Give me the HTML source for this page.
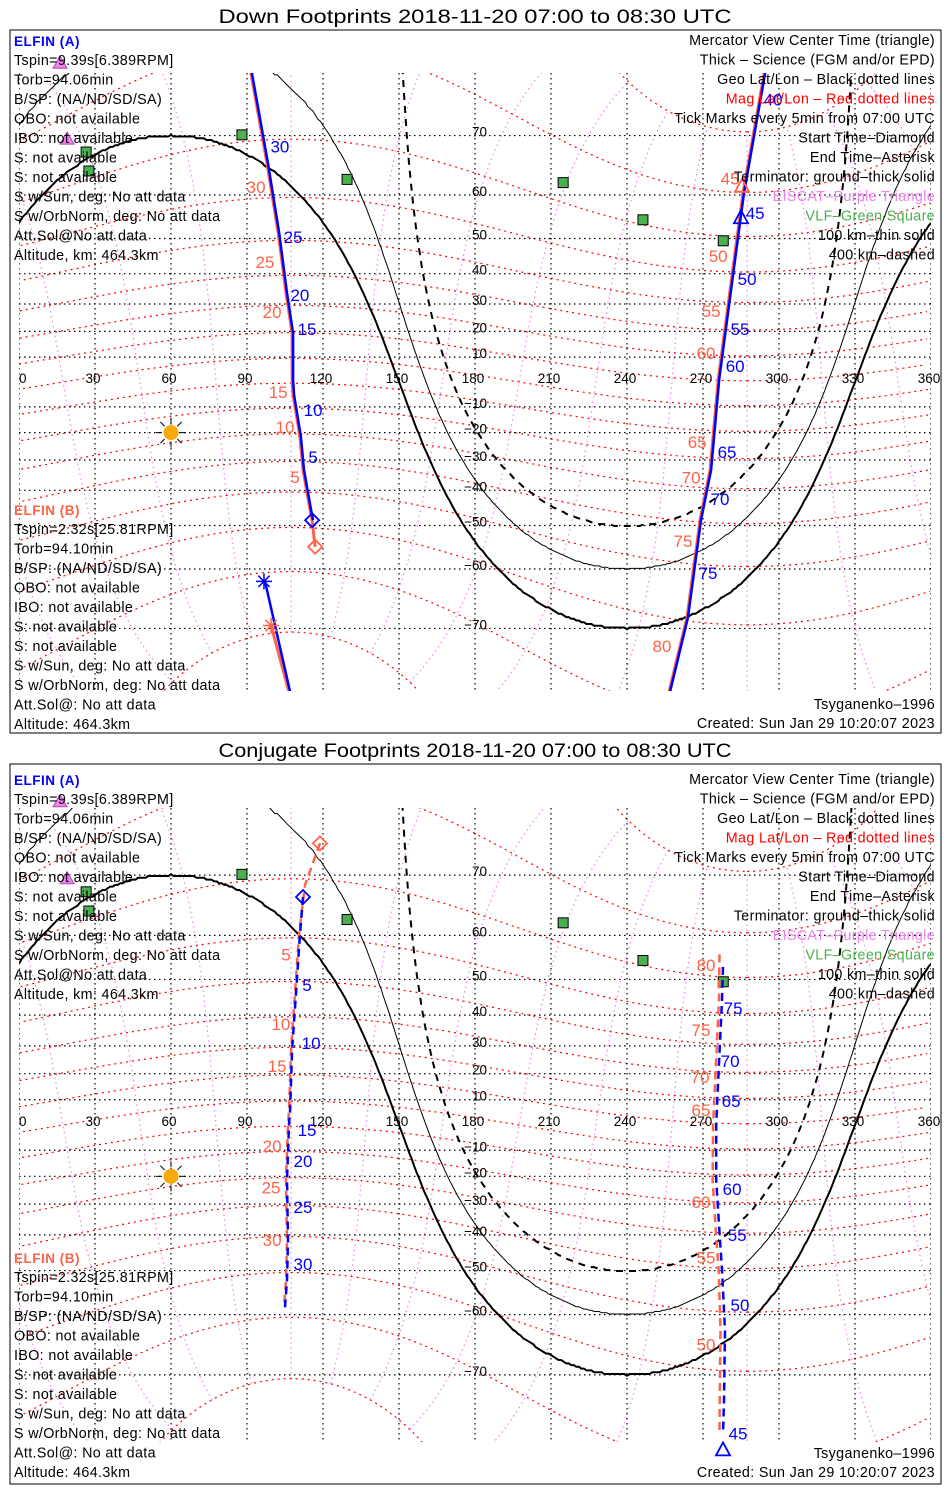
<!DOCTYPE html>
<html><head><meta charset="utf-8">
<style>
html,body{margin:0;padding:0;background:#fff;width:950px;height:1500px;overflow:hidden}
svg{display:block}
text{font-family:"Liberation Sans","DejaVu Sans",sans-serif}
</style></head>
<body>
<svg id="chart" width="950" height="1500" viewBox="0 0 950 1500" xmlns="http://www.w3.org/2000/svg"></svg>
<script>
// ---------------- data ----------------
const lonTicks = [0,30,60,90,120,150,180,210,240,270,300,330,360];
const latTicks = [70,60,50,40,30,20,10,-10,-20,-30,-40,-50,-60,-70];
const magLats = [-80,-70,-60,-50,-40,-30,-20,-10,0,10,20,30,40,50,60,70,80];
const magLons = [0,30,60,90,120,150,180,210,240,270,300,330];
const sunLon = 60, sunDec = -20;
const dipAngles = [0, 10, 19.8]; // ground, 100 km, 400 km
const vlfLon = [88,26.5,27.6,129.5,214.8,246.3,278];
const vlfLat = [70.1,67.6,64.5,63.0,62.4,54.6,49.4];
const eiscatLon = [16.2,19];
const eiscatLat = [77.9,69.5];

// Down footprints
const downATrack = [
  [[115.7,-48.6],[114.9,-45.8],[112.1,-33.4],[110.9,-21.6],[108.2,-5.2],[107.8,0.8],[107.8,19.4],[105.4,33.8],[102.3,51.4],[97.9,65.8],[91.2,77.5]],
  [[294.5,77.5],[285.8,60.4],[281.9,42.0],[276,1],[272.8,-33.4],[268.8,-48.6],[263.7,-68.4],[256.2,-77.5]],
  [[107,-77.5],[96.7,-62.4]]
];
const downBTrack = [
  [[116.9,-55.2],[115.7,-48.6],[114.9,-45.8],[112.1,-33.4],[110.9,-21.6],[108.2,-5.2],[107.8,0.8],[107.8,19.4],[105.4,33.8],[102.3,51.4],[97.9,65.8],[91.2,77.5]],
  [[294.5,77.5],[285.8,60.4],[281.9,42.0],[276,1],[272.8,-33.4],[268.8,-48.6],[263.7,-68.4],[256.2,-77.5]],
  [[107,-77.5],[99.5,-69.6]]
];
const downALabels = ['5','10','15','20','25','30','40','45','50','55','60','65','70','75'];
const downALabelLon = [116.1,116.1,113.7,110.9,108.2,103,297.7,290.6,287.4,284.6,282.7,279.5,276.7,272];
const downALabelLat = [-29.0,-11.2,20.9,33.1,50.4,68.4,74.4,56.2,38.4,20.9,6.5,-27.2,-42.6,-60.8];
const downBLabels = ['5','10','15','20','25','30','45','50','55','60','65','70','75','80'];
const downBLabelLon = [109,105,102.3,99.9,97.1,93.6,280.7,276,273.2,271.2,267.7,265.3,262.1,253.8];
const downBLabelLat = [-35.8,-17.8,-4.0,27.2,43.5,61.6,63.2,45.2,27.6,11.6,-23.6,-36,-53.8,-72.3];

// Conjugate footprints
const conjATrack = [
  [[112.1,66.8],[110.9,60],[109.7,49.8],[107.8,28.6],[107,6],[106.6,0],[105.8,-21.4],[106.2,-41.6],[105.8,-52.4],[105,-58.5]],
  [[277.9,53.1],[277.5,44.4],[276,17.6],[275.2,0],[275.2,-21.4],[276.7,-41.6],[277.5,-49.8],[278.7,-63],[278.3,-73.2],[277.9,-76.7]]
];
const conjBTrack = [
  [[118.8,73.9],[112.9,68.6],[110.5,60],[109.3,49.8],[107.4,28.6],[106.6,6],[106.2,0],[105.4,-21.4],[105.8,-41.6],[105.4,-52.4],[104.6,-58.5]],
  [[276.5,56],[276.3,44.4],[274.8,17.6],[274,0],[273.8,-21.4],[275.3,-41.6],[276.2,-49.8],[276.9,-63],[276.6,-73.2],[276.5,-76.7]]
];
const conjALabels = ['5','10','15','20','25','30','75','70','65','60','55','50','45'];
const conjALabelLon = [113.7,115.3,113.7,112.1,112.1,112.1,281.9,280.7,281.1,281.5,283.5,284.6,283.8];
const conjALabelLat = [48.6,31,-2,-14.2,-31,-48.3,42.2,24.6,9.5,-24.6,-40,-58,-76.6];
const conjBLabels = ['5','10','15','20','25','30','80','75','70','65','60','55','50'];
const conjBLabelLon = [105.4,103.4,101.9,99.9,99.5,99.9,271.2,269.2,268.8,269.2,269.2,271.2,271.2];
const conjBLabelLat = [56.0,37.2,22.8,-8.3,-24.2,-41.6,53.6,35.4,18.8,6,-29.2,-46.6,-65.4];

// ---------------- drawing ----------------
const NS = 'http://www.w3.org/2000/svg';
const svg = document.getElementById('chart');
const BLUE = '#0000ff', ORANGE = '#ff6347';
function el(tag, attrs, parent){
  const e = document.createElementNS(NS, tag);
  for (const k in attrs) e.setAttribute(k, attrs[k]);
  (parent||svg).appendChild(e);
  return e;
}
function txt(s, x, y, attrs, parent){
  const t = el('text', Object.assign({x:x, y:y, 'font-size':13}, attrs||{}), parent);
  t.textContent = s;
  return t;
}
const rad = Math.PI/180;

const panels = [
  {title:'Down Footprints 2018-11-20 07:00 to 08:30 UTC', titleY:23, boxY:30, boxH:703, eq:382, k:142, top:73, bot:691,
   textTop:0, textB:0, textBot:0, aTrack:downATrack, bTrack:downBTrack, dashed:false,
   aL:downALabels, aLon:downALabelLon, aLat:downALabelLat, bL:downBLabels, bLon:downBLabelLon, bLat:downBLabelLat, name:'down'},
  {title:'Conjugate Footprints 2018-11-20 07:00 to 08:30 UTC', titleY:757, boxY:764, boxH:720, eq:1125, k:144, top:808, bot:1442,
   textTop:739, textB:748, textBot:749, aTrack:conjATrack, bTrack:conjBTrack, dashed:true,
   aL:conjALabels, aLon:conjALabelLon, aLat:conjALabelLat, bL:conjBLabels, bLon:conjBLabelLon, bLat:conjBLabelLat, name:'conjugate'}
];

function xOf(lon){ return 19 + lon*2.5333; }
function yOf(P, lat){ const l = Math.max(-85, Math.min(85, lat)); return P.eq - P.k*Math.log(Math.tan((45 + l/2)*rad)); }

const poleLat = 80.5*rad, poleLon = -72.6*rad;
const zp = [Math.cos(poleLat)*Math.cos(poleLon), Math.cos(poleLat)*Math.sin(poleLon), Math.sin(poleLat)];
function cross(a,b){ return [a[1]*b[2]-a[2]*b[1], a[2]*b[0]-a[0]*b[2], a[0]*b[1]-a[1]*b[0]]; }
function norm(a){ const n=Math.hypot(a[0],a[1],a[2]); return [a[0]/n,a[1]/n,a[2]/n]; }
const yp = norm(cross([0,0,1], zp));
const xp = cross(yp, zp);
function magToGeo(mlat, mlon){
  const c = Math.cos(mlat*rad), a = c*Math.cos(mlon*rad), b = c*Math.sin(mlon*rad), s = Math.sin(mlat*rad);
  const v = [xp[0]*a+yp[0]*b+zp[0]*s, xp[1]*a+yp[1]*b+zp[1]*s, xp[2]*a+yp[2]*b+zp[2]*s];
  let lon = Math.atan2(v[1], v[0])/rad; if (lon < 0) lon += 360;
  return [lon, Math.asin(Math.max(-1,Math.min(1,v[2])))/rad];
}
function pathFromGeo(P, pts){
  let d = '', prev = null;
  for (const p of pts){
    if (p === null){ prev = null; continue; }
    const jump = prev && Math.abs(p[0]-prev[0]) > 180;
    d += (prev && !jump ? 'L' : 'M') + xOf(p[0]).toFixed(1) + ' ' + yOf(P, p[1]).toFixed(1);
    prev = p;
  }
  return d;
}
function termLat(lon, alpha){
  const H = (lon - sunLon)*rad, sd = Math.sin(sunDec*rad), cd = Math.cos(sunDec*rad), sa = Math.sin(alpha*rad);
  const f = la => Math.sin(la*rad)*sd + Math.cos(la*rad)*cd*Math.cos(H) + sa;
  let prev = f(-86);
  for (let la = -85.75; la <= 86; la += 0.25){
    const v = f(la);
    if ((v > 0) !== (prev > 0)) return la - 0.125;
    prev = v;
  }
  return null;
}

const INFO = {'font-size':14.3, 'letter-spacing':0.35};

panels.forEach((P, pi) => {
  const g = el('g', {});
  
  
  const clipId = 'clip' + pi;
  const cp = el('clipPath', {id: clipId}, g);
  el('rect', {x:19, y:P.top, width:912, height:P.bot-P.top}, cp);

  const title = txt(P.title, 475, P.titleY, {'font-size':19, 'text-anchor':'middle', textLength:513, lengthAdjust:'spacingAndGlyphs'}, g);
  
  

  const box = el('rect', {x:10, y:P.boxY, width:931, height:P.boxH, fill:'#fff', stroke:'#000', 'stroke-width':1}, g);
  
  

  const map = el('g', {'clip-path':'url(#'+clipId+')'}, g);
  
  

  magLons.forEach(ml => {
    const pts = [];
    for (let m = -80; m <= 80; m += 2) pts.push(magToGeo(m, ml));
    const p = el('path', {d:pathFromGeo(P, pts), fill:'none', stroke:'#ee82ee', 'stroke-width':1.2, 'stroke-dasharray':'1.5 3.5'}, map);
    
    
  });
  magLats.forEach(m => {
    const pts = [];
    for (let ml = 0; ml <= 360; ml += 2) pts.push(magToGeo(m, ml));
    const p = el('path', {d:pathFromGeo(P, pts), fill:'none', stroke:'#ff0000', 'stroke-width':1.2, 'stroke-dasharray':'2 4'}, map);
    
    
  });
  lonTicks.forEach(lon => {
    const l = el('line', {x1:xOf(lon), x2:xOf(lon), y1:P.top, y2:P.bot, stroke:'#000', 'stroke-width':1.2, 'stroke-dasharray':'1.5 3.5'}, map);
    
    
  });
  latTicks.forEach(lat => {
    const y = yOf(P, lat);
    const l = el('line', {x1:19, x2:931, y1:y, y2:y, stroke:'#000', 'stroke-width':1.2, 'stroke-dasharray':'1.5 3.5'}, map);
    
    
  });
  dipAngles.forEach((a, ai) => {
    const pts = [];
    for (let lon = 0; lon <= 360; lon += 1){
      const la = termLat(lon, a);
      pts.push(la === null ? null : [lon, la]);
    }
    const attrs = {d:pathFromGeo(P, pts), fill:'none', stroke:'#000', 'stroke-width': ai===0 ? 2 : (ai===1 ? 1 : 2)};
    if (ai === 2) attrs['stroke-dasharray'] = '7 6';
    const p = el('path', attrs, map);
    
    
  });
  lonTicks.forEach(lon => {
    const t = txt(String(lon), xOf(lon) + (lon===0?0:-2), P.eq + 1, {'font-size':13.5, 'text-anchor': lon===0?'start':'middle'}, g);
    
    
  });
  latTicks.forEach(lat => {
    const t = txt(String(lat).replace('-', '\u2212'), 487, yOf(P, lat) + 1, {'font-size':13.5, 'text-anchor':'end'}, g);
    
    
  });
  vlfLon.forEach((lon, i) => {
    const x = xOf(lon), y = yOf(P, vlfLat[i]);
    const r = el('rect', {x:x-5, y:y-5, width:10, height:10, fill:'#4caf50', stroke:'#000', 'stroke-width':1}, g);
    
    
  });
  eiscatLon.forEach((lon, i) => {
    const x = xOf(lon), y = yOf(P, eiscatLat[i]);
    const t = el('polygon', {points:`${x-7},${y+5} ${x+7},${y+5} ${x},${y-7}`, fill:'#ee82ee', stroke:'#b04ab0', 'stroke-width':1}, g);
    
    
  });
  const sx = xOf(sunLon), sy = yOf(P, sunDec);
  const sun = el('g', {}, g);
  
  
  for (let a = 0; a < 360; a += 45){
    el('line', {x1:sx+9*Math.cos(a*rad), y1:sy+9*Math.sin(a*rad), x2:sx+15*Math.cos(a*rad), y2:sy+15*Math.sin(a*rad), stroke:'#000', 'stroke-width':1}, sun);
  }
  el('circle', {cx:sx, cy:sy, r:7.5, fill:'#f7aa0c'}, sun);

  const trk = el('g', {'clip-path':'url(#'+clipId+')'}, g);
  P.bTrack.forEach(seg => {
    const attrs = {d:pathFromGeo(P, seg), fill:'none', stroke:ORANGE, 'stroke-width':P.dashed?2.5:3};
    if (P.dashed) attrs['stroke-dasharray'] = '8 5';
    const p = el('path', attrs, trk);
    
    
  });
  P.aTrack.forEach(seg => {
    const attrs = {d:pathFromGeo(P, seg), fill:'none', stroke:BLUE, 'stroke-width':2.5};
    if (P.dashed) attrs['stroke-dasharray'] = '8 5';
    const p = el('path', attrs, trk);
    if (!P.dashed) p.setAttribute('transform', 'translate(1,0)');
    
    
  });
  function diamond(lon, lat, c, nm){
    const x = xOf(lon), y = yOf(P, lat);
    const d = el('polygon', {points:`${x},${y-7} ${x+7},${y} ${x},${y+7} ${x-7},${y}`, fill:'none', stroke:c, 'stroke-width':1.8}, g);
    
    
  }
  function triangle(lon, lat, c, nm){
    const x = xOf(lon), y = yOf(P, lat);
    const d = el('polygon', {points:`${x-7},${y+6} ${x+7},${y+6} ${x},${y-7}`, fill:'none', stroke:c, 'stroke-width':1.8}, g);
    
    
  }
  function asterisk(lon, lat, c, nm){
    const x = xOf(lon), y = yOf(P, lat);
    const a = el('g', {stroke:c, 'stroke-width':1.5}, g);
    
    
    for (let k = 0; k < 4; k++){
      const an = k*45*rad;
      el('line', {x1:x-8*Math.cos(an), y1:y-8*Math.sin(an), x2:x+8*Math.cos(an), y2:y+8*Math.sin(an)}, a);
    }
  }
  const a0 = P.aTrack[0][0], b0 = P.bTrack[0][0];
  diamond(a0[0], a0[1], BLUE, 'elfin-a-start');
  diamond(b0[0], b0[1], ORANGE, 'elfin-b-start');
  if (!P.dashed){
    triangle(285, 55.2, BLUE, 'elfin-a-center-time');
    triangle(285.4, 61.8, ORANGE, 'elfin-b-center-time');
    const aEnd = P.aTrack[2][1], bEnd = P.bTrack[2][1];
    asterisk(aEnd[0], aEnd[1], BLUE, 'elfin-a-end');
    asterisk(bEnd[0], bEnd[1], ORANGE, 'elfin-b-end');
  } else {
    triangle(277.9, -78, BLUE, 'elfin-a-center-time');
  }
  P.bL.forEach((s, i) => {
    const t = txt(s, xOf(P.bLon[i]), yOf(P, P.bLat[i]) + 6, {'font-size':17, 'text-anchor':'middle', fill:ORANGE}, g);
    
    
  });
  P.aL.forEach((s, i) => {
    const t = txt(s, xOf(P.aLon[i]), yOf(P, P.aLat[i]) + 6, {'font-size':17, 'text-anchor':'middle', fill:BLUE}, g);
    
    
  });

  const aLines = ['Tspin=9.39s[6.389RPM]','Torb=94.06min','B/SP: (NA/ND/SD/SA)','OBO: not available','IBO: not available','S: not available','S: not available','S w/Sun, deg: No att data','S w/OrbNorm, deg: No att data','Att.Sol@No att data','Altitude, km: 464.3km'];
  const bLines = ['Tspin=2.32s[25.81RPM]','Torb=94.10min','B/SP: (NA/ND/SD/SA)','OBO: not available','IBO: not available','S: not available','S: not available','S w/Sun, deg: No att data','S w/OrbNorm, deg: No att data','Att.Sol@: No att data','Altitude: 464.3km'];
  const ta = txt('ELFIN (A)', 14, 46 + P.textTop, {'font-size':13.5, fill:BLUE, 'font-weight':'bold', 'letter-spacing':0.5}, g);
  
  
  aLines.forEach((s, i) => {
    const t = txt(s, 14, 65 + i*19.5 + P.textTop, INFO, g);
    
    
  });
  const tb = txt('ELFIN (B)', 14, 515 + P.textB, {'font-size':13.5, fill:ORANGE, 'font-weight':'bold', 'letter-spacing':0.5}, g);
  
  
  bLines.forEach((s, i) => {
    const t = txt(s, 14, 534 + i*19.5 + P.textB, INFO, g);
    
    
  });
  const leg = [['Mercator View Center Time (triangle)','#000'],['Thick - Science (FGM and/or EPD)','#000'],['Geo Lat/Lon - Black dotted lines','#000'],['Mag Lat/Lon - Red dotted lines','#ff0000'],['Tick Marks every 5min from 07:00 UTC','#000'],['Start Time-Diamond','#000'],['End Time-Asterisk','#000'],['Terminator: ground-thick solid','#000'],['EISCAT-Purple Triangle','#ee82ee'],['VLF-Green Square','#4caf50'],['100 km-thin solid','#000'],['400 km-dashed','#000']];
  leg.forEach((l, i) => {
    const t = txt(l[0].replace(/ - /g,' \u2013 ').replace(/-/g,'\u2013'), 935, 45 + i*19.5 + P.textTop, Object.assign({'text-anchor':'end', fill:l[1]}, INFO), g);
    
    
  });
  const ts = txt('Tsyganenko\u20131996', 935, 709 + P.textBot, Object.assign({'text-anchor':'end'}, INFO), g);
  
  
  const cr = txt('Created: Sun Jan 29 10:20:07 2023', 935, 728 + P.textBot, Object.assign({'text-anchor':'end'}, INFO), g);
  
  
});
</script>
</body></html>
